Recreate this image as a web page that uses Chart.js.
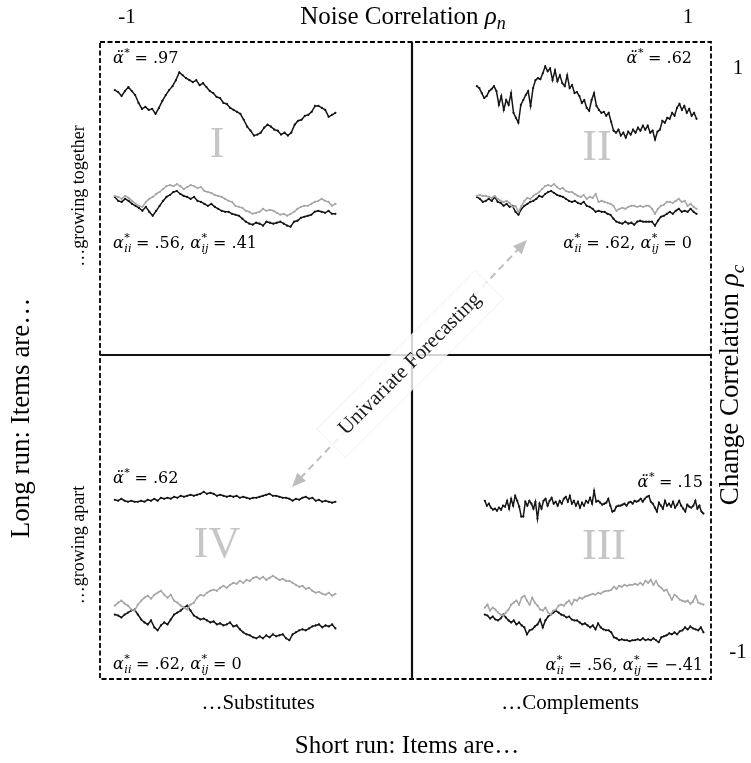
<!DOCTYPE html>
<html>
<head>
<meta charset="utf-8">
<script src="https://cdn.jsdelivr.net/npm/chart.js@4.4.1/dist/chart.umd.min.js"></script>
<style>
  html, body { margin: 0; padding: 0; background: #fff; }
  canvas { display: block; }
</style>
</head>
<body>
<canvas id="chart" width="751" height="763"></canvas>
<script>
// axis end labels
const noiseTicks = ["-1", "1"];
const changeTicks = ["1", "-1"];
const quadrantNames = ["I", "II", "III", "IV"];

// Quadrant I: rho_n = -1, rho_c = 1
const q1Single = [43,41,37,42,46,42,38,30,24,26,23,24,19,25,32,38,43,47,53,61,58,55,53,51,53,48,50,46,42,40,36,35,30,29,25,23,21,19,13,6,2,-3,-2,0,5,8,6,3,2,-2,0,-3,0,8,12,13,17,18,21,27,27,25,23,16,18,20];
const q1Gray = [23,22,20,23,21,18,15,13,12,17,20,22,25,27,30,33,34,33,35,33,30,32,34,33,31,32,28,27,26,24,23,22,20,18,17,13,12,11,8,7,5,6,7,10,8,9,8,6,4,5,3,5,7,10,12,13,13,15,17,18,20,18,17,13,15];
const q1Black = [22,18,17,20,18,15,13,11,8,12,7,3,8,13,18,22,24,27,28,25,23,22,20,22,18,17,15,13,15,12,10,8,7,7,5,4,3,0,-3,-5,-6,-4,-5,-7,-3,-4,-5,-4,-3,-5,-7,-8,-3,-2,1,2,3,4,7,8,7,6,8,5,5];

// Quadrant II: rho_n = 1, rho_c = 1
const q2Single = [47,45,40,35,37,42,44,47,42,28,37,23,33,28,40,20,15,10,28,33,38,42,27,45,53,55,54,60,67,62,65,53,63,52,58,50,47,58,45,48,40,41,37,30,33,25,22,33,40,27,23,20,21,17,20,11,2,0,3,-3,0,-5,1,-2,3,0,5,2,7,3,7,0,2,-7,1,3,12,10,15,14,20,17,25,29,23,27,20,24,17,20,14];
const q2Gray = [23,24,23,23,22,21,23,20,18,17,18,16,12,13,7,13,18,21,20,23,25,27,30,33,34,33,35,32,30,31,28,27,27,25,23,22,24,20,22,21,25,17,18,17,16,15,13,8,10,11,10,12,13,13,12,13,12,13,13,10,5,10,13,14,17,17,16,18,20,17,18,13,15,12,10];
const q2Black = [22,20,17,18,20,18,22,17,16,13,15,12,13,7,4,10,13,15,17,18,20,23,22,25,27,28,26,24,23,22,20,18,17,18,16,15,17,13,12,10,7,8,7,7,5,4,0,-3,-4,-5,-3,-5,-4,-6,-3,-2,-3,-3,-3,-3,-7,-2,2,3,5,7,5,8,10,7,8,7,10,7,5];

// Quadrant III: rho_n = 1, rho_c = -1
const q3Single = [8,3,5,1,-1,0,-2,1,-1,3,2,8,0,10,3,13,8,2,-8,-8,7,3,8,5,0,7,-10,5,0,8,10,3,8,11,5,7,3,8,5,10,12,7,13,5,8,3,7,1,6,3,8,6,11,5,18,7,8,6,4,5,6,10,3,-3,-2,2,3,3,4,5,3,6,7,5,8,7,8,10,7,10,12,13,7,5,1,-3,6,3,0,8,3,5,2,7,1,4,8,3,0,-3,4,2,1,3,8,0,3,-3,-5];
const q3Gray = [0,3,-3,0,-2,-5,-7,-8,-5,-2,3,5,7,3,10,12,7,3,10,5,2,-2,-3,0,-5,-7,-3,-2,2,3,2,5,7,3,8,7,10,9,11,12,13,14,13,15,14,16,17,17,18,21,19,22,21,23,22,23,23,24,23,25,23,27,25,28,23,27,22,20,17,18,13,8,13,11,8,7,6,7,4,6,12,5,4,3];
const q3Black = [-7,-8,-11,-9,-12,-13,-11,-7,-10,-13,-15,-13,-17,-15,-18,-20,-27,-23,-22,-19,-17,-12,-20,-13,-9,-7,-5,-3,-5,-7,-8,-10,-9,-12,-13,-13,-15,-17,-16,-18,-20,-18,-22,-16,-20,-22,-23,-23,-25,-30,-31,-33,-32,-33,-33,-34,-33,-33,-32,-33,-31,-33,-32,-33,-31,-33,-35,-30,-29,-28,-26,-27,-25,-27,-24,-23,-20,-22,-19,-21,-22,-23,-20,-25];

// Quadrant IV: rho_n = -1, rho_c = -1
const q4Single = [9,8,10,8,7,8,7,7,8,7,9,8,10,8,11,10,11,10,12,11,13,12,13,14,13,14,15,17,15,16,15,13,14,13,12,13,12,13,11,12,11,10,11,11,12,13,14,15,13,13,12,11,11,10,8,10,9,11,12,10,11,8,9,7,8,7,6,7];
const q4Gray = [2,5,7,4,2,-2,-3,3,7,10,12,9,13,15,17,13,10,13,7,5,2,0,-2,3,5,10,13,12,15,17,18,17,20,22,20,23,25,24,27,25,28,27,30,31,29,31,28,30,32,30,28,29,27,27,25,23,21,22,19,20,17,15,16,14,13,15,12,14];
const q4Black = [-7,-8,-10,-7,-5,-3,-2,-7,-12,-15,-17,-13,-20,-23,-18,-15,-17,-12,-7,-5,-3,0,2,-3,-8,-10,-12,-11,-13,-15,-14,-17,-16,-18,-17,-15,-19,-18,-22,-25,-27,-28,-30,-31,-29,-31,-28,-30,-27,-29,-28,-27,-31,-33,-27,-25,-23,-22,-23,-21,-19,-18,-17,-20,-18,-19,-17,-21];

// parameter captions per quadrant
const singleLabels = { q1: ".97", q2: ".62", q3: ".15", q4: ".62" };
const pairLabels = { q1: [".56", ".41"], q2: [".62", "0"], q3: [".56", "\u2212.41"], q4: [".62", "0"] };

const W = 751, H = 763;
const BLACK = "#151515", GRAY = "#a6a6a6";

const pts = arr => arr.map((v, i) => ({ x: i / (arr.length - 1), y: v }));
// x axis placing the unit interval between pixel a and b
const xAxis = (a, b) => ({ type: "linear", axis: "x", display: false, min: -a / (b - a), max: (W - a) / (b - a) });
// y axis with level 0 at pixel base, one unit per pixel
const yAxis = base => ({ type: "linear", axis: "y", display: false, min: base - H, max: base });

function series(data, color, xId, yId) {
  return {
    data: pts(data), borderColor: color, backgroundColor: color,
    borderWidth: 1.5, pointRadius: 1.1, pointBorderWidth: 0,
    tension: 0, xAxisID: xId, yAxisID: yId, clip: false
  };
}

const SERIF = "'Liberation Serif', 'Times New Roman', serif";
const MATH = "'DejaVu Serif', serif";

// draw text made of parts; a part may carry a stacked superscript and subscript
function rich(ctx, x, y, parts, align, size) {
  const fnt = (it, s) => (it ? "italic " : "") + s + "px " + MATH;
  const widthOf = p => {
    ctx.font = fnt(p.i, size);
    let w = ctx.measureText(p.t).width;
    let extra = 0;
    ctx.font = fnt(p.i, size * 0.7);
    if (p.sup) extra = Math.max(extra, ctx.measureText(p.sup).width);
    if (p.sub) extra = Math.max(extra, ctx.measureText(p.sub).width);
    return w + extra;
  };
  const total = parts.reduce((s, p) => s + widthOf(p), 0);
  let cx = align === "right" ? x - total : x;
  ctx.textAlign = "left";
  ctx.textBaseline = "alphabetic";
  parts.forEach(p => {
    ctx.font = fnt(p.i, size);
    ctx.fillText(p.t, cx, y);
    const w = ctx.measureText(p.t).width;
    ctx.font = fnt(p.i, size * 0.7);
    if (p.sup) ctx.fillText(p.sup, cx + w + 0.5, y - size * 0.42);
    if (p.sub) ctx.fillText(p.sub, cx + w + 0.5, y + size * 0.25);
    cx += widthOf(p);
  });
}

const singleParts = v => [{ t: "\u03b1\u0308", i: true, sup: "*" }, { t: " = " + v }];
const pairParts = v => [
  { t: "\u03b1", i: true, sup: "*", sub: "ii" }, { t: " = " + v[0] + ", " },
  { t: "\u03b1", i: true, sup: "*", sub: "ij" }, { t: " = " + v[1] }
];

function centered(ctx, text, x, y, size, angle) {
  ctx.save();
  ctx.translate(x, y);
  ctx.rotate(angle || 0);
  ctx.font = size + "px " + SERIF;
  ctx.textAlign = "center";
  ctx.textBaseline = "middle";
  ctx.fillText(text, 0, 0);
  ctx.restore();
}

// text with an italic rho and subscript, centred
function rhoTitle(ctx, label, sub, x, y, size, angle) {
  ctx.save();
  ctx.translate(x, y);
  ctx.rotate(angle || 0);
  ctx.textBaseline = "middle";
  ctx.textAlign = "left";
  ctx.font = size + "px " + SERIF;
  const w1 = ctx.measureText(label).width;
  ctx.font = "italic " + size + "px " + SERIF;
  const w2 = ctx.measureText("\u03c1").width;
  ctx.font = "italic " + Math.round(size * 0.7) + "px " + SERIF;
  const w3 = ctx.measureText(sub).width;
  let sx = -(w1 + w2 + w3) / 2;
  ctx.font = size + "px " + SERIF;
  ctx.fillText(label, sx, 0);
  ctx.font = "italic " + size + "px " + SERIF;
  ctx.fillText("\u03c1", sx + w1, 0);
  ctx.font = "italic " + Math.round(size * 0.7) + "px " + SERIF;
  ctx.fillText(sub, sx + w1 + w2, size * 0.3);
  ctx.restore();
}

const frame = {
  id: "frame",
  beforeDraw(chart) {
    const ctx = chart.ctx;
    ctx.save();
    ctx.fillStyle = "#fff";
    ctx.fillRect(0, 0, W, H);
    // outer dashed box
    ctx.strokeStyle = "#000";
    ctx.lineWidth = 1.8;
    ctx.setLineDash([5, 2.5]);
    ctx.strokeRect(100, 42, 611, 637);
    // quadrant dividers
    ctx.setLineDash([]);
    ctx.lineWidth = 2.2;
    ctx.strokeStyle = "#111";
    ctx.beginPath();
    ctx.moveTo(412, 42); ctx.lineTo(412, 679);
    ctx.moveTo(100, 355); ctx.lineTo(711, 355);
    ctx.stroke();
    // roman numerals
    ctx.fillStyle = "#c6c6c6";
    const romanPos = [[217, 145], [597, 148], [604, 547], [217, 545]];
    quadrantNames.forEach((n, k) => centered(ctx, n, romanPos[k][0], romanPos[k][1], 44));
    // outer titles
    ctx.fillStyle = "#000";
    rhoTitle(ctx, "Noise Correlation ", "n", 403, 17, 25);
    centered(ctx, noiseTicks[0], 127, 17, 21);
    centered(ctx, noiseTicks[1], 688, 17, 21);
    centered(ctx, changeTicks[0], 738, 68, 21);
    centered(ctx, changeTicks[1], 738, 652, 21);
    rhoTitle(ctx, "Change Correlation ", "c", 731, 385, 27, -Math.PI / 2);
    centered(ctx, "Long run: Items are\u2026", 22, 418, 27, -Math.PI / 2);
    centered(ctx, "\u2026growing together", 79, 196, 18, -Math.PI / 2);
    centered(ctx, "\u2026growing apart", 79, 545, 18, -Math.PI / 2);
    centered(ctx, "\u2026Substitutes", 258, 703, 21);
    centered(ctx, "\u2026Complements", 570, 703, 21);
    centered(ctx, "Short run: Items are\u2026", 407, 746, 25);
    // parameter captions
    rich(ctx, 113, 63, singleParts(singleLabels.q1), "left", 16);
    rich(ctx, 113, 248, pairParts(pairLabels.q1), "left", 16);
    rich(ctx, 692, 63, singleParts(singleLabels.q2), "right", 16);
    rich(ctx, 692, 248, pairParts(pairLabels.q2), "right", 16);
    rich(ctx, 113, 483, singleParts(singleLabels.q4), "left", 16);
    rich(ctx, 113, 669, pairParts(pairLabels.q4), "left", 16);
    rich(ctx, 703, 487, singleParts(singleLabels.q3), "right", 16);
    rich(ctx, 703, 670, pairParts(pairLabels.q3), "right", 16);
    ctx.restore();
  },
  afterDatasetsDraw(chart) {
    const ctx = chart.ctx;
    const a = [292, 487], b = [527, 240];
    ctx.save();
    // dashed double arrow
    ctx.strokeStyle = "#bdbdbd";
    ctx.fillStyle = "#bdbdbd";
    ctx.lineWidth = 2;
    ctx.setLineDash([7, 5]);
    const ang = Math.atan2(b[1] - a[1], b[0] - a[0]);
    ctx.beginPath();
    ctx.moveTo(a[0] + 12 * Math.cos(ang), a[1] + 12 * Math.sin(ang));
    ctx.lineTo(b[0] - 12 * Math.cos(ang), b[1] - 12 * Math.sin(ang));
    ctx.stroke();
    ctx.setLineDash([]);
    const head = (p, dir) => {
      ctx.beginPath();
      ctx.moveTo(p[0], p[1]);
      ctx.lineTo(p[0] - 14 * Math.cos(dir) + 6 * Math.sin(dir), p[1] - 14 * Math.sin(dir) - 6 * Math.cos(dir));
      ctx.lineTo(p[0] - 14 * Math.cos(dir) - 6 * Math.sin(dir), p[1] - 14 * Math.sin(dir) + 6 * Math.cos(dir));
      ctx.closePath();
      ctx.fill();
    };
    head(b, ang);
    head(a, ang + Math.PI);
    // label box across the centre
    ctx.translate(410, 364);
    ctx.rotate(-Math.PI / 4);
    ctx.fillStyle = "rgba(255,255,255,0.82)";
    ctx.fillRect(-112, -20, 224, 40);
    ctx.strokeStyle = "rgba(225,225,225,0.35)";
    ctx.lineWidth = 1;
    ctx.strokeRect(-112, -20, 224, 40);
    ctx.fillStyle = "#1a1a1a";
    ctx.font = "21px " + SERIF;
    ctx.textAlign = "center";
    ctx.textBaseline = "middle";
    ctx.fillText("Univariate Forecasting", 0, 0);
    ctx.restore();
  }
};

new Chart(document.getElementById("chart"), {
  type: "line",
  data: {
    datasets: [
      series(q1Single, BLACK, "xL", "yTopA"),
      series(q1Gray, GRAY, "xL", "yTopB"),
      series(q1Black, BLACK, "xL", "yTopB"),
      series(q2Single, BLACK, "xR2", "yTopA"),
      series(q2Gray, GRAY, "xR2", "yTopB"),
      series(q2Black, BLACK, "xR2", "yTopB"),
      series(q3Single, BLACK, "xR3", "yBotA"),
      series(q3Gray, GRAY, "xR3", "yBotB"),
      series(q3Black, BLACK, "xR3", "yBotB"),
      series(q4Single, BLACK, "xL", "yBotA"),
      series(q4Gray, GRAY, "xL", "yBotB"),
      series(q4Black, BLACK, "xL", "yBotB")
    ]
  },
  options: {
    responsive: false,
    animation: false,
    devicePixelRatio: 1,
    events: [],
    layout: { padding: 0 },
    plugins: { legend: { display: false }, tooltip: { enabled: false }, title: { display: false } },
    scales: {
      xL: xAxis(112, 335),
      xR2: xAxis(478, 700),
      xR3: xAxis(486, 707),
      yTopA: yAxis(130),
      yTopB: yAxis(217),
      yBotA: yAxis(510),
      yBotB: yAxis(610)
    }
  },
  plugins: [frame]
});
</script>
</body>
</html>
